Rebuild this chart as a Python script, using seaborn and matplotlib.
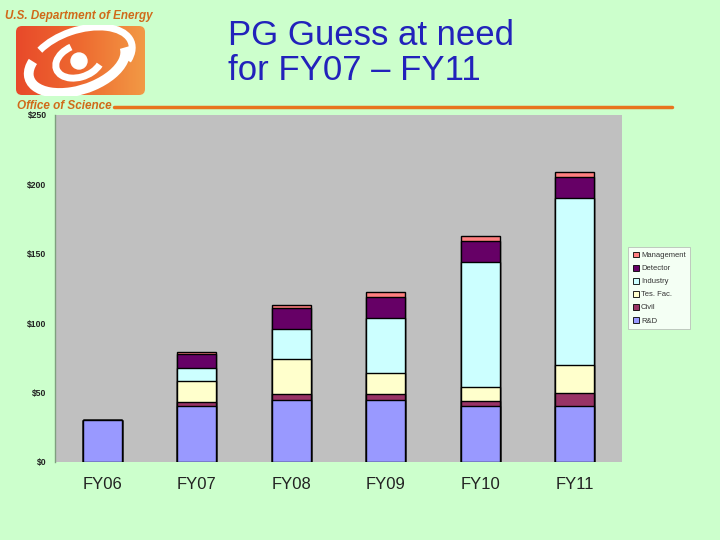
import numpy as np
import pandas as pd
import matplotlib
matplotlib.use("Agg")
import matplotlib.pyplot as plt
import seaborn as sns
from matplotlib.patches import Patch, FancyBboxPatch, Circle, Arc
from matplotlib.colors import LinearSegmentedColormap

# Chart data ($M per fiscal year, by category)
years = ["FY06", "FY07", "FY08", "FY09", "FY10", "FY11"]
rnd = [30, 40, 45, 45, 40, 40]
civil = [0, 3, 4, 4, 4, 10]
test_fac = [0, 15, 25, 15, 10, 20]
industry = [0, 10, 22, 40, 90, 120]
detector = [0, 10, 15, 15, 15, 15]
management = [0, 1, 2, 3.5, 3.5, 4]

categories = ["R&D", "Civil", "Tes. Fac.", "Industry", "Detector", "Management"]
colors = ["#9999FF", "#993366", "#FFFFCC", "#CCFFFF", "#660066", "#FF8080"]

y_ticks = [0, 50, 100, 150, 200, 250]

sns.set_style("white")
plt.rcParams["font.family"] = ["Liberation Sans", "DejaVu Sans"]

df = pd.DataFrame({"year": years, "R&D": rnd, "Civil": civil, "Tes. Fac.": test_fac,
                   "Industry": industry, "Detector": detector, "Management": management})
cum = df[categories].cumsum(axis=1)

fig = plt.figure(figsize=(7.2, 5.4), dpi=100, facecolor="#CCFFCC")
ax = fig.add_axes([55 / 720, 1 - 462 / 540, 567 / 720, 347 / 540])
ax.set_facecolor("#C0C0C0")

# stacked bars: draw cumulative totals from the top layer down
for cat, col in reversed(list(zip(categories, colors))):
    plot_df = pd.DataFrame({"year": years, "value": cum[cat]})
    sns.barplot(data=plot_df, x="year", y="value", color=col, width=0.41,
                edgecolor="black", linewidth=1.0, saturation=1, ax=ax)

ax.set_ylim(0, 250)
ax.set_xlim(-0.5, 5.5)
ax.set_yticks(y_ticks)
ax.set_yticklabels([f"${v}" for v in y_ticks], fontsize=6.2, fontweight="bold", color="#222222")
ax.tick_params(axis="y", length=0, pad=6)
ax.tick_params(axis="x", length=0, pad=11, labelsize=12, labelcolor="#222222")
ax.set_xlabel("")
ax.set_ylabel("")
for side in ["top", "right", "bottom"]:
    ax.spines[side].set_visible(False)
ax.spines["left"].set_color("#7f9f7f")
ax.spines["left"].set_linewidth(1)

handles = [Patch(facecolor=c, edgecolor="black", linewidth=0.6, label=l)
           for l, c in zip(categories, colors)][::-1]
leg = fig.legend(handles=handles, loc="upper left", bbox_to_anchor=(628 / 720, 1 - 247 / 540),
                 fontsize=5.5, frameon=True, fancybox=False, handlelength=0.8, handleheight=0.8,
                 handletextpad=0.3, labelspacing=0.72, borderpad=0.6, borderaxespad=0)
leg.get_frame().set_edgecolor("#b0b0b0")
leg.get_frame().set_linewidth(0.6)
for t in leg.get_texts():
    t.set_color("#333333")

# header
orange_txt = "#D06A1A"
fig.text(5 / 720, 1 - 16 / 540, "U.S. Department of Energy", fontsize=8.4, fontweight="bold",
         style="italic", color=orange_txt, va="center", ha="left")
fig.text(17 / 720, 1 - 106 / 540, "Office of Science", fontsize=8.5, fontweight="bold",
         style="italic", color=orange_txt, va="center", ha="left")
fig.add_artist(plt.Line2D([114 / 720, 672 / 720], [1 - 107 / 540, 1 - 107 / 540],
                          color="#E8741E", linewidth=2.5, transform=fig.transFigure))
fig.text(228 / 720, 1 - 53 / 540, "PG Guess at need\nfor FY07 – FY11", fontsize=25,
         color="#2222BB", va="center", ha="left", linespacing=1.06)

# logo
lax = fig.add_axes([15 / 720, 1 - 96 / 540, 131 / 720, 71 / 540])
lax.set_xlim(0, 131)
lax.set_ylim(0, 71)
lax.axis("off")
grad = np.linspace(0, 1, 200)[None, :]
cmap = LinearSegmentedColormap.from_list("logo", ["#E8492A", "#EE6A30", "#F29A45"])
box = FancyBboxPatch((1, 1), 129, 69, boxstyle="round,pad=0,rounding_size=6",
                     facecolor="none", edgecolor="none")
lax.add_patch(box)
im = lax.imshow(grad, extent=(0, 131, 0, 71), cmap=cmap, aspect="auto")
im.set_clip_path(box)
cx, cy = 64, 35
lax.add_patch(Circle((cx, cy), 8, color="white"))
lax.add_artist(Arc((cx, cy), 48, 32, angle=20, theta1=100, theta2=330,
                   color="white", linewidth=5))
lax.add_artist(Arc((cx - 2, cy - 2), 100, 54, angle=18, theta1=160, theta2=360,
                   color="white", linewidth=7))
lax.add_artist(Arc((cx + 2, cy + 2), 106, 58, angle=18, theta1=-20, theta2=150,
                   color="white", linewidth=5))

fig.savefig("out.png", dpi=100, facecolor=fig.get_facecolor())
